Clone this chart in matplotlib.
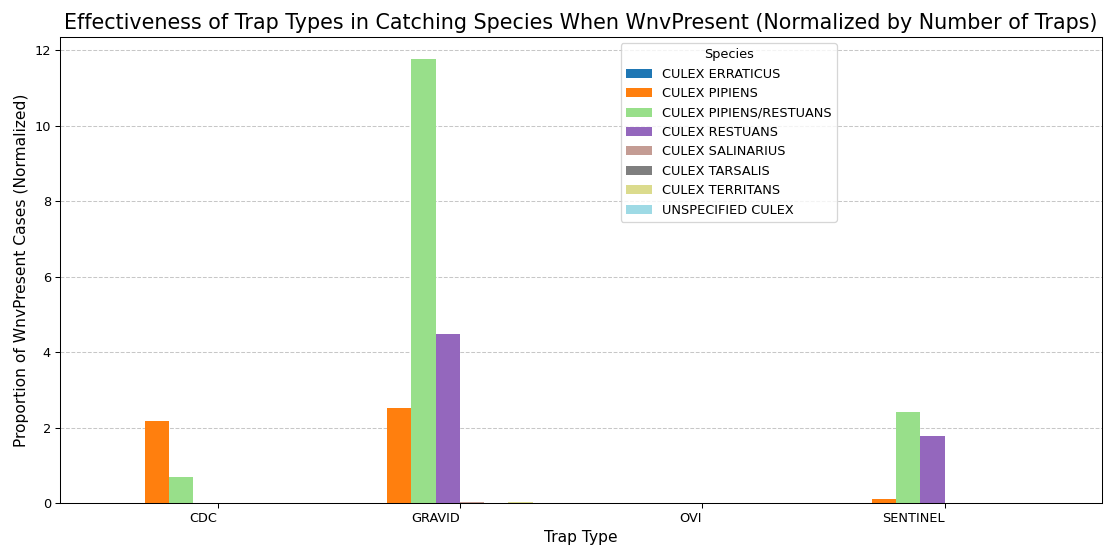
import matplotlib
matplotlib.use("Agg")
import matplotlib.pyplot as plt
import pandas as pd

trap_types = ["CDC", "GRAVID", "OVI", "SENTINEL"]
species = ["CULEX ERRATICUS", "CULEX PIPIENS", "CULEX PIPIENS/RESTUANS",
           "CULEX RESTUANS", "CULEX SALINARIUS", "CULEX TARSALIS",
           "CULEX TERRITANS", "UNSPECIFIED CULEX"]
erraticus = [0.0, 0.0, 0.0, 0.0]
pipiens = [2.17, 2.51, 0.0, 0.11]
pipiens_restuans = [0.69, 11.76, 0.0, 2.41]
restuans = [0.0, 4.47, 0.0, 1.77]
salinarius = [0.0, 0.03, 0.0, 0.0]
tarsalis = [0.0, 0.0, 0.0, 0.0]
territans = [0.0, 0.02, 0.0, 0.0]
unspecified = [0.0, 0.0, 0.0, 0.0]

df = pd.DataFrame(
    dict(zip(species, [erraticus, pipiens, pipiens_restuans, restuans,
                       salinarius, tarsalis, territans, unspecified])),
    index=pd.Index(trap_types, name="Trap Type"),
)
df.columns.name = "Species"

DPI = 93
fig, ax = plt.subplots(figsize=(1105 / DPI, 547 / DPI), dpi=DPI)
fig.subplots_adjust(left=0.0543, right=0.9973, top=0.9324, bottom=0.0804)
df.plot(kind="bar", width=0.8, colormap="tab20", ax=ax, rot=0)
ax.set_title("Effectiveness of Trap Types in Catching Species When WnvPresent (Normalized by Number of Traps)",
             fontsize=16)
ax.set_xlabel("Trap Type", fontsize=12)
ax.set_ylabel("Proportion of WnvPresent Cases (Normalized)", fontsize=12)
for lbl in ax.get_xticklabels():
    lbl.set_horizontalalignment("right")
ax.grid(axis="y", linestyle="--", alpha=0.7)
ax.set_axisbelow(True)
ax.legend(title="Species", loc="upper left", bbox_to_anchor=(0.538, 0.987),
          borderaxespad=0)
fig.savefig("out.png", dpi=DPI)
